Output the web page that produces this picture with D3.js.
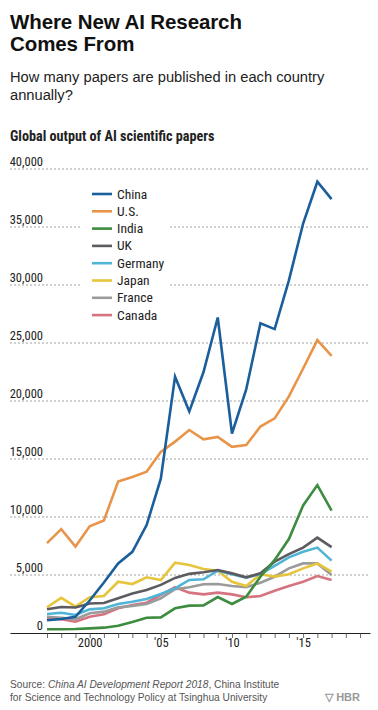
<!DOCTYPE html>
<html><head><meta charset="utf-8">
<script src="https://cdn.jsdelivr.net/npm/d3@7"></script>
<style>
body{margin:0;background:#fff;}
svg{display:block;}
.cond{font-family:"Liberation Sans Narrow","Roboto Condensed","Arial Narrow",sans-serif;}
</style></head>
<body>
<svg id="c" width="378" height="710"></svg>
<script>
const years = d3.range(1997, 2018);
const countries = ["China","U.S.","India","UK","Germany","Japan","France","Canada"];
const colors = ["#1b5e9c","#e8954a","#3d8c40","#5b5b60","#4fb4d6","#e6c53c","#9b9b9b","#d67380"];
const china   = [1100,1200,1400,2800,4350,6000,7000,9300,13300,22100,19100,22500,27200,17200,21000,26700,26200,30400,35300,38900,37400];
const us      = [7750,8950,7450,9200,9700,13050,13450,13900,15600,16500,17500,16700,16900,16050,16200,17800,18500,20400,22800,25250,23900];
const india   = [320,320,340,400,460,630,950,1320,1350,2130,2360,2380,3100,2500,3130,4850,6300,8100,11000,12750,10550];
const uk      = [2050,2240,2200,2550,2590,2990,3400,3700,4150,4750,5100,5230,5430,5140,4800,5140,6150,6800,7360,8220,7400];
const germany = [1640,1750,1550,2040,2130,2500,2700,2930,3360,3850,4570,4630,5370,5060,4770,5090,5780,6520,7010,7360,6240];
const japan   = [2220,3030,2270,3080,3190,4420,4220,4800,4570,6060,5860,5520,5370,4420,4050,5060,4860,5060,5570,6000,5290];
const france  = [1400,1320,1180,1700,1840,2210,2330,2500,2990,3770,3940,4200,4220,4050,3940,4340,4850,5570,6000,6000,5000];
const canada  = [1260,1180,970,1400,1610,2130,2410,2610,3280,3940,3480,3330,3480,3330,3080,3190,3650,4050,4420,4910,4570];
const seriesValues = [china, us, india, uk, germany, japan, france, canada];
const yTicks = [5000,10000,15000,20000,25000,30000,35000,40000];
const xTickLabels = {2000:"2000",2005:"'05",2010:"'10",2015:"'15"};

const svg = d3.select("#c");
const x = d3.scaleLinear().domain([1994.4, 2019.7]).range([10, 370]);
const y = d3.scaleLinear().domain([0, 40000]).range([633, 169]);

// Title
svg.append("text").attr("x",10).attr("y",29)
  .style("font-family","'Liberation Sans',Arial,sans-serif").style("font-weight","bold")
  .style("font-size","20.5px").style("letter-spacing","-0.1px").attr("fill","#111")
  .text("Where New AI Research");
svg.append("text").attr("x",10).attr("y",51)
  .style("font-family","'Liberation Sans',Arial,sans-serif").style("font-weight","bold")
  .style("font-size","20.5px").style("letter-spacing","-0.1px").attr("fill","#111")
  .text("Comes From");
svg.append("text").attr("x",10).attr("y",82)
  .style("font-family","'Liberation Sans',Arial,sans-serif")
  .style("font-size","14.7px").attr("fill","#222")
  .text("How many papers are published in each country");
svg.append("text").attr("x",10).attr("y",100)
  .style("font-family","'Liberation Sans',Arial,sans-serif")
  .style("font-size","14.7px").attr("fill","#222")
  .text("annually?");
svg.append("text").attr("class","cond").attr("x",10).attr("y",141)
  .style("font-weight","bold").style("font-size","14.2px").attr("fill","#222")
  .text("Global output of AI scientific papers");

// gridlines + y labels
const g = svg.append("g");
g.selectAll("line.grid").data(yTicks).join("line").attr("class","grid")
  .attr("x1",10).attr("x2",370).attr("y1",d=>y(d)).attr("y2",d=>y(d))
  .attr("stroke","#8a8a8a").attr("stroke-width",0.8).attr("stroke-dasharray","2,2");
g.selectAll("text.yl").data([0].concat(yTicks)).join("text").attr("class","yl cond")
  .attr("x",43).attr("y",d=>y(d)-3).attr("text-anchor","end")
  .style("font-size","12.5px").attr("fill","#222")
  .text(d=>d3.format(",")(d));

// legend background
const legendY0 = 194, legendStep = 17.3;
svg.append("rect").attr("x",82).attr("y",182).attr("width",86).attr("height",144).attr("fill","#fff");

// x axis
const xAxis = d3.axisBottom(x).tickValues(d3.range(1997,2020)).tickSize(5).tickSizeOuter(0)
  .tickFormat(d=>xTickLabels[d]||"");
const ax = svg.append("g").attr("transform","translate(0,633)").call(xAxis);
ax.select(".domain").attr("stroke","#222").attr("stroke-width",1);
ax.selectAll(".tick line").attr("stroke","#444").attr("stroke-width",0.8);
ax.selectAll(".tick text").attr("class","cond").attr("dy","0.55em").attr("y",7)
  .style("font-size","12.5px").attr("fill","#222");

// lines
const line = d3.line().x((d,i)=>x(years[i])).y(d=>y(d));
const order = d3.range(countries.length).reverse();
svg.append("g").selectAll("path").data(order).join("path")
  .attr("d",i=>line(seriesValues[i])).attr("fill","none")
  .attr("stroke",i=>colors[i]).attr("stroke-width",2.6)
  .attr("stroke-linejoin","miter").attr("stroke-linecap","butt");

// legend
const lg = svg.append("g");
countries.forEach((c,i)=>{
  const ly = legendY0 + i*legendStep;
  lg.append("line").attr("x1",92).attr("x2",112).attr("y1",ly).attr("y2",ly)
    .attr("stroke",colors[i]).attr("stroke-width",2.6);
  lg.append("text").attr("class","cond").attr("x",117).attr("y",ly+4.5)
    .style("font-size","13.5px").attr("fill","#222").text(c);
});

// footer
const f1 = svg.append("text").attr("x",10).attr("y",688)
  .style("font-family","'Liberation Sans',Arial,sans-serif").style("font-size","10.2px").attr("fill","#555");
f1.append("tspan").text("Source: ");
f1.append("tspan").style("font-style","italic").text("China AI Development Report 2018");
f1.append("tspan").text(", China Institute");
svg.append("text").attr("x",10).attr("y",701)
  .style("font-family","'Liberation Sans',Arial,sans-serif").style("font-size","10.2px").attr("fill","#555")
  .text("for Science and Technology Policy at Tsinghua University");
svg.append("text").attr("x",360).attr("y",701).attr("text-anchor","end")
  .style("font-family","'Liberation Sans',Arial,sans-serif").style("font-weight","bold")
  .style("font-size","11px").attr("fill","#999").text("\u25BD HBR");
</script>
</body></html>
